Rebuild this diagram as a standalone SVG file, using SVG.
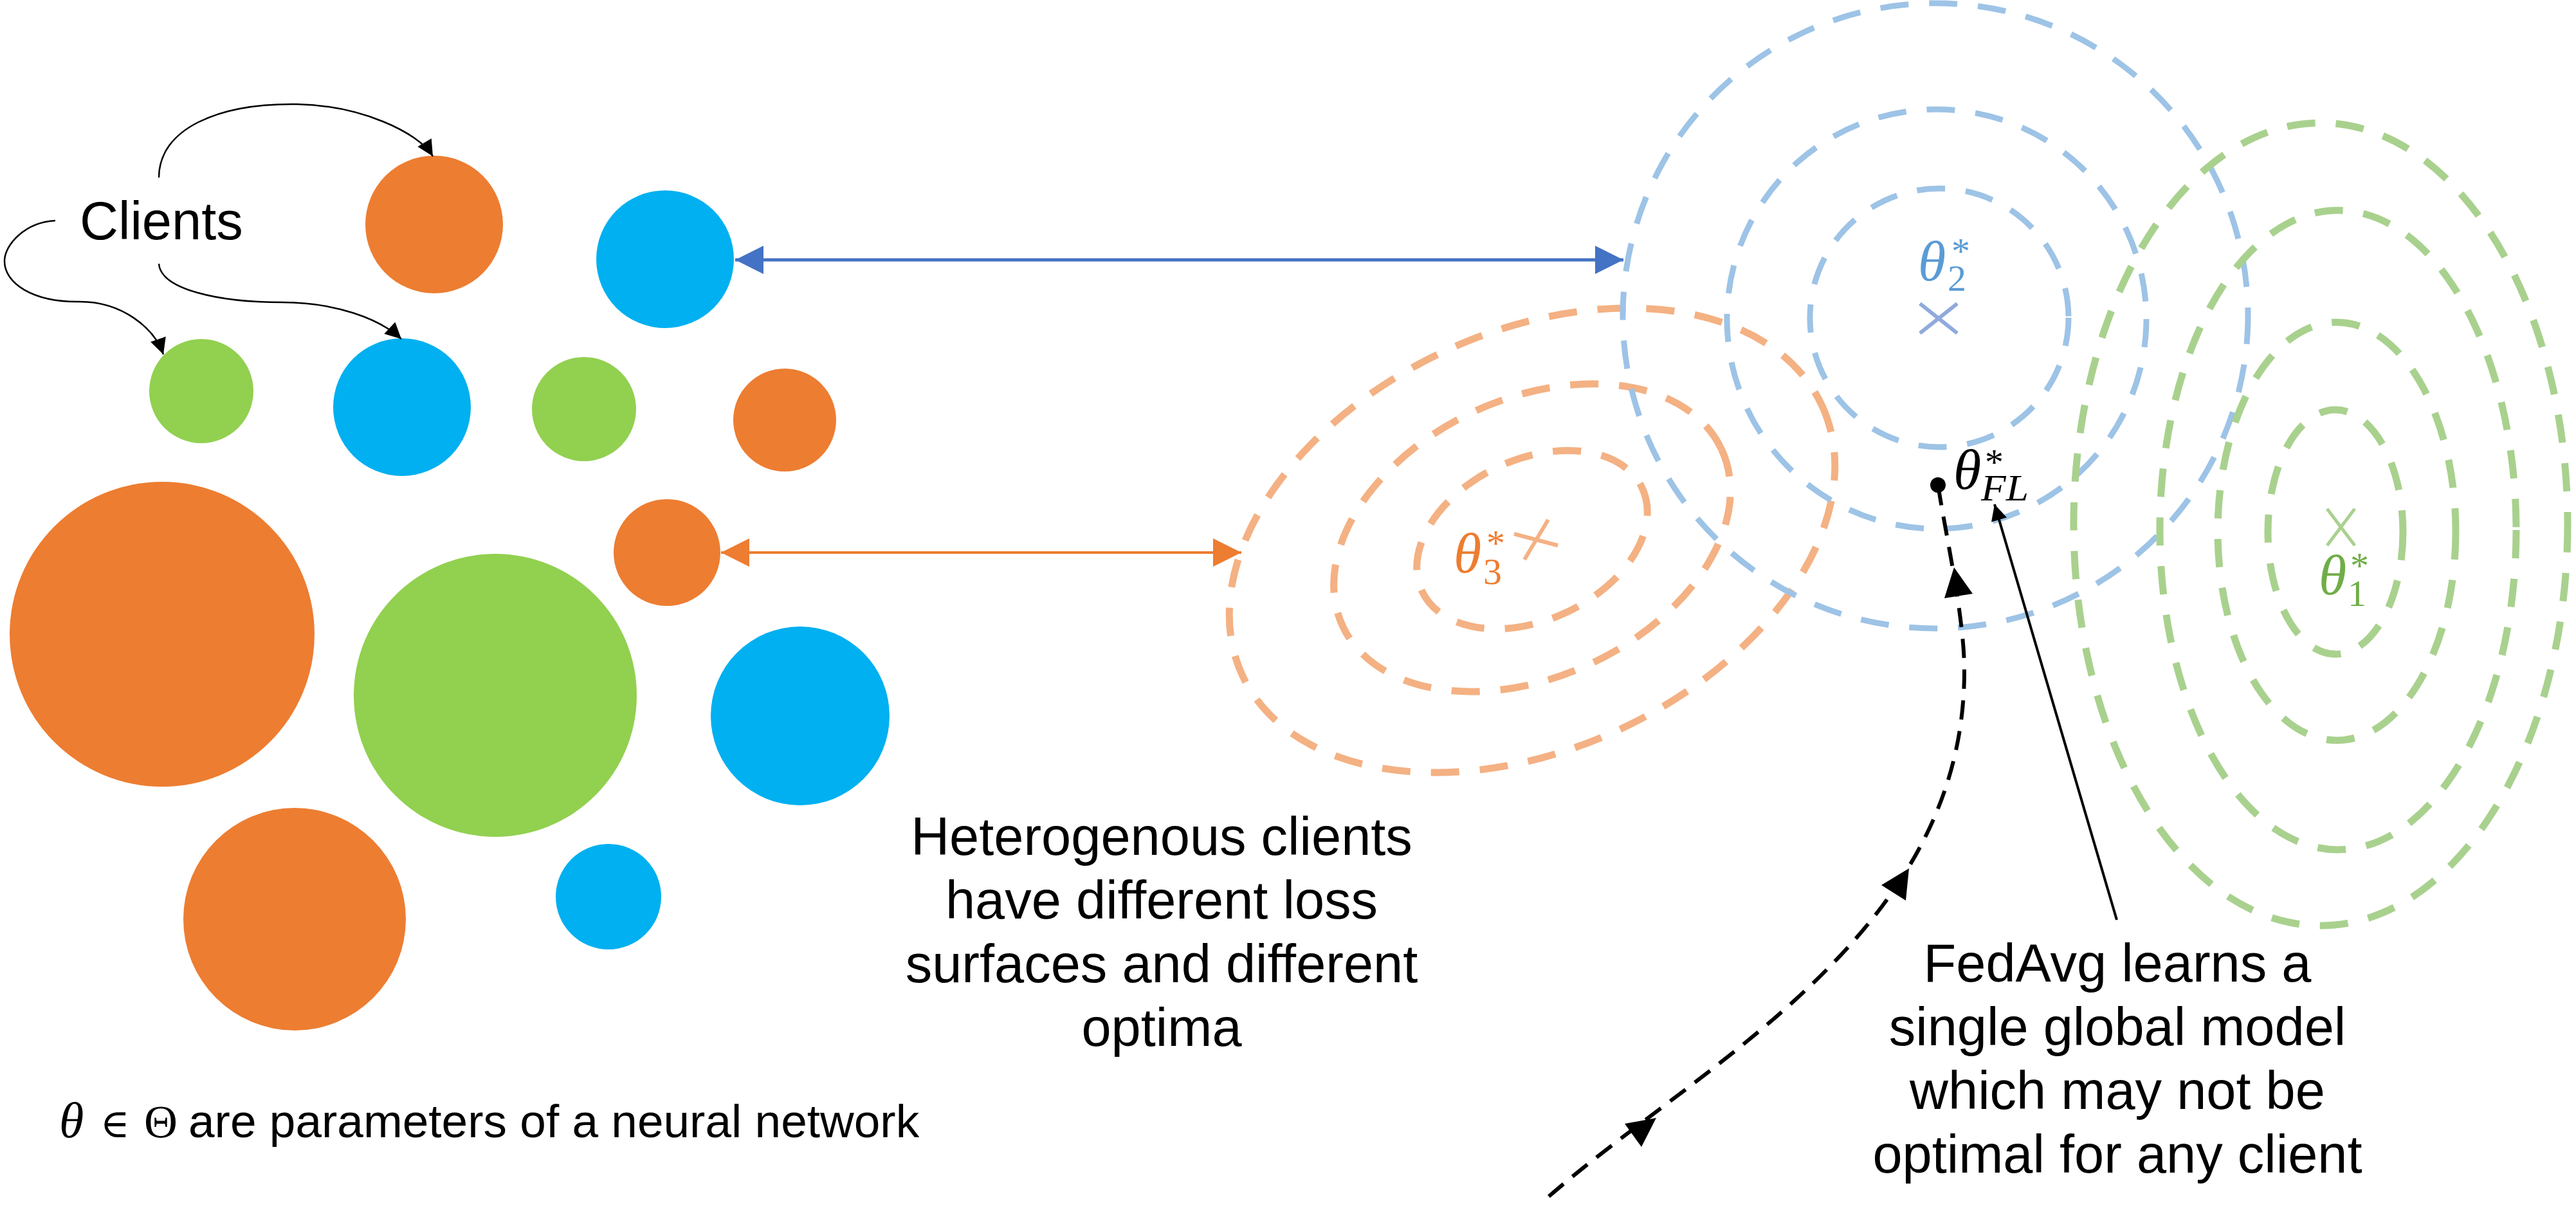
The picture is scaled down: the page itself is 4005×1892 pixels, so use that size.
<svg xmlns="http://www.w3.org/2000/svg" width="4005" height="1892" viewBox="0 0 4005 1892">
<style>
.lbl{font-family:"Liberation Sans",Arial,sans-serif;font-size:83px;fill:#000}
.note{font-family:"Liberation Sans",Arial,sans-serif;font-size:73px;fill:#000}
.m{font-family:"Liberation Serif","Times New Roman",serif;font-size:58px}
.th{font-style:italic;font-size:88px}
.dash{fill:none;stroke-dasharray:44 32}
.o{fill:#ED7D31}.b{fill:#00B0F0}.g{fill:#92D050}
</style>
<defs>
<marker id="ab" viewBox="0 0 10 10" refX="10" refY="5" markerWidth="44" markerHeight="44" markerUnits="userSpaceOnUse" orient="auto-start-reverse"><path d="M0,0 L10,5 L0,10 z" fill="#4472C4"/></marker>
<marker id="ao" viewBox="0 0 10 10" refX="10" refY="5" markerWidth="44" markerHeight="44" markerUnits="userSpaceOnUse" orient="auto-start-reverse"><path d="M0,0 L10,5 L0,10 z" fill="#ED7D31"/></marker>
<marker id="ak" viewBox="0 0 10 10" refX="10" refY="5" markerWidth="27" markerHeight="25" markerUnits="userSpaceOnUse" orient="auto"><path d="M0,0 L10,5 L0,10 z" fill="#000"/></marker>
<marker id="ak2" viewBox="0 0 10 10" refX="10" refY="5" markerWidth="28" markerHeight="25" markerUnits="userSpaceOnUse" orient="auto"><path d="M0,0 L10,5 L0,10 z" fill="#000"/></marker>
</defs>

<g id="clients">
<circle id="c1" class="o" cx="675" cy="349" r="107"/>
<circle id="c2" class="b" cx="1034" cy="403" r="107"/>
<circle id="c3" class="g" cx="313" cy="608" r="81"/>
<circle id="c4" class="b" cx="625" cy="633" r="107"/>
<circle id="c5" class="g" cx="908" cy="636" r="81"/>
<circle id="c6" class="o" cx="1220" cy="653" r="80"/>
<circle id="c7" class="o" cx="1037" cy="859" r="83"/>
<circle id="c8" class="o" cx="252" cy="986" r="237"/>
<circle id="c9" class="g" cx="770" cy="1081" r="220"/>
<circle id="c10" class="b" cx="1244" cy="1113" r="139"/>
<circle id="c11" class="o" cx="458" cy="1429" r="173"/>
<circle id="c12" class="b" cx="946" cy="1394" r="82"/>
</g>

<g id="surface-orange" stroke="#F4B183">
<ellipse class="dash" stroke-width="11" cx="2382" cy="840" rx="497" ry="324" transform="rotate(-25 2382 840)"/>
<ellipse class="dash" stroke-width="11" cx="2382" cy="836" rx="325" ry="216" transform="rotate(-25 2382 836)"/>
<ellipse class="dash" stroke-width="11" cx="2382" cy="839" rx="189" ry="125" transform="rotate(-25 2382 839)"/>
<path d="M2354,830 L2422,848 M2370,870 L2407,808" stroke-width="6" fill="none"/>
</g>

<g id="surface-blue" stroke="#9DC3E6">
<circle class="dash" stroke-width="9" cx="3009" cy="491" r="486"/>
<circle class="dash" stroke-width="9" cx="3011" cy="496" r="326"/>
<circle class="dash" stroke-width="9" cx="3015" cy="494" r="201"/>
<path d="M2985,472 L3043,518 M3043,472 L2985,518" stroke="#8FAADC" stroke-width="6" fill="none"/>
</g>

<g id="surface-green" stroke="#A9D18E">
<ellipse class="dash" stroke-width="11" cx="3608" cy="815" rx="384" ry="624"/>
<ellipse class="dash" stroke-width="11" cx="3635" cy="824" rx="277" ry="497"/>
<ellipse class="dash" stroke-width="11" cx="3633" cy="826" rx="185" ry="325"/>
<ellipse class="dash" stroke-width="11" cx="3631" cy="827" rx="105" ry="190"/>
<path d="M3618,791 L3661,848 M3661,791 L3618,848" stroke-width="5" fill="none"/>
</g>

<g id="connectors" fill="none">
<path d="M247,276 C247,200 340,160 462,162 C560,164 650,205 673,243" stroke="#000" stroke-width="2.5" marker-end="url(#ak)"/>
<path d="M86,343 C40,345 7,380 7,406 C7,440 50,470 124,469 C190,469 240,510 254,551" stroke="#000" stroke-width="2.5" marker-end="url(#ak)"/>
<path d="M247,410 C250,450 340,470 439,470 C520,470 590,495 624,527" stroke="#000" stroke-width="2.5" marker-end="url(#ak)"/>
<line x1="1143" y1="404" x2="2524" y2="404" stroke="#4472C4" stroke-width="5" marker-start="url(#ab)" marker-end="url(#ab)"/>
<line x1="1121" y1="859" x2="1930" y2="859" stroke="#ED7D31" stroke-width="4" marker-start="url(#ao)" marker-end="url(#ao)"/>
<path d="M2408,1860 C2650,1650 3055,1450 3054,1042 C3054,960 3025,830 3013,754" stroke="#000" stroke-width="6" stroke-dasharray="30 18"/>
<circle cx="3013" cy="754" r="12" fill="#000"/>
<polygon points="3038,882 3067,923 3023,930" fill="#000"/>
<polygon points="2968,1350 2963,1400 2925,1376" fill="#000"/>
<polygon points="2575,1738 2552,1783 2526,1747" fill="#000"/>
<line x1="3291" y1="1430" x2="3101" y2="784" stroke="#000" stroke-width="4" marker-end="url(#ak2)"/>
</g>

<g id="math-labels">
<text id="theta3" class="m" fill="#ED7D31"><tspan class="th" x="2260" y="890">θ</tspan><tspan x="2306" y="908">3</tspan><tspan x="2311" y="864">*</tspan></text>
<text id="theta2" class="m" fill="#5B9BD5"><tspan class="th" x="2982" y="436">θ</tspan><tspan x="3028" y="452">2</tspan><tspan x="3034" y="410">*</tspan></text>
<text id="theta1" class="m" fill="#70AD47"><tspan class="th" x="3605" y="924">θ</tspan><tspan x="3650" y="942">1</tspan><tspan x="3654" y="899">*</tspan></text>
<text id="thetaFL" class="m" fill="#000"><tspan class="th" x="3037" y="760">θ</tspan><tspan font-style="italic" x="3080" y="778" textLength="74" lengthAdjust="spacingAndGlyphs">FL</tspan><tspan x="3086" y="738">*</tspan></text>
</g>

<g id="texts">
<text class="lbl" x="124" y="372">Clients</text>
<g id="hetero" text-anchor="middle">
<text class="lbl" x="1806" y="1329">Heterogenous clients</text>
<text class="lbl" x="1806" y="1428">have different loss</text>
<text class="lbl" x="1806" y="1527">surfaces and different</text>
<text class="lbl" x="1806" y="1626">optima</text>
</g>
<g id="fedavg" text-anchor="middle">
<text class="lbl" x="3292" y="1526">FedAvg learns a</text>
<text class="lbl" x="3292" y="1625">single global model</text>
<text class="lbl" x="3292" y="1724">which may not be</text>
<text class="lbl" x="3292" y="1823">optimal for any client</text>
</g>
<text id="note" class="note" y="1768"><tspan x="92" font-family="Liberation Serif,serif" font-style="italic" font-size="78">θ</tspan><tspan x="156" font-family="DejaVu Serif,serif" font-size="62">∈</tspan><tspan x="224" font-family="Liberation Serif,serif" font-size="72">Θ</tspan><tspan x="293">are parameters of a neural network</tspan></text>
</g>
</svg>
